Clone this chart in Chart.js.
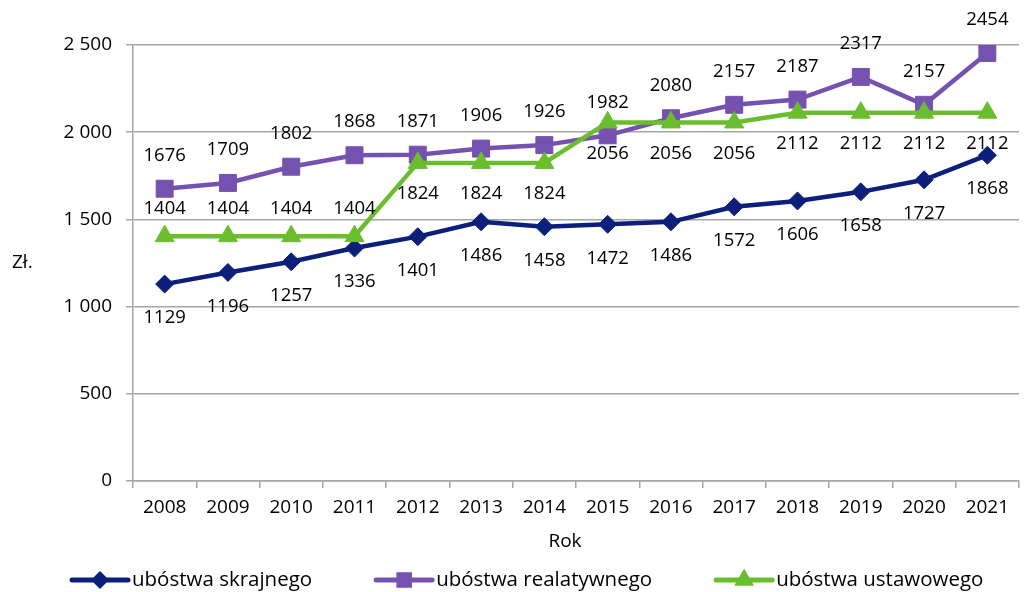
<!DOCTYPE html>
<html>
<head>
<meta charset="utf-8">
<script src="https://cdn.jsdelivr.net/npm/chart.js@4.4.1/dist/chart.umd.min.js"></script>
<style>
  html, body { margin: 0; padding: 0; background: #fff; }
  #wrap { width: 1032px; height: 592px; }
</style>
</head>
<body>
<div id="wrap"><canvas id="chart"></canvas></div>
<script>
// dane z wykresu (zł)
const years = ['2008', '2009', '2010', '2011', '2012', '2013', '2014', '2015', '2016', '2017', '2018', '2019', '2020', '2021'];
const skrajne = [1129, 1196, 1257, 1336, 1401, 1486, 1458, 1472, 1486, 1572, 1606, 1658, 1727, 1868];
const relatywne = [1676, 1709, 1802, 1868, 1871, 1906, 1926, 1982, 2080, 2157, 2187, 2317, 2157, 2454];
const ustawowe = [1404, 1404, 1404, 1404, 1824, 1824, 1824, 2056, 2056, 2056, 2112, 2112, 2112, 2112];
const seriesNames = ['ubóstwa skrajnego', 'ubóstwa realatywnego', 'ubóstwa ustawowego'];
const yMax = 2500;
const yStep = 500;

const FONT = '"Open Sans", sans-serif';
const colors = ['#0c1f7a', '#7652b0', '#6abe2e'];
const styles = ['rectRot', 'rect', 'triangle'];

// where each value label sits relative to its point
const labelShift = [
  i => 34,
  i => -33,
  i => (i < 4 ? -27 : 31)
];

function fmt(v) {
  return String(v).replace(/\B(?=(\d{3})+(?!\d))/g, ' ');
}

const valueLabels = {
  id: 'valueLabels',
  afterDatasetsDraw(chart) {
    const ctx = chart.ctx;
    ctx.save();
    ctx.font = '18.5px ' + FONT;
    ctx.fillStyle = '#000';
    ctx.textAlign = 'center';
    ctx.textBaseline = 'middle';
    chart.data.datasets.forEach((ds, di) => {
      const meta = chart.getDatasetMeta(di);
      meta.data.forEach((pt, i) => {
        ctx.fillText(String(ds.data[i]), pt.x, pt.y + labelShift[di](i));
      });
    });
    ctx.restore();
  }
};

const extras = {
  id: 'extras',
  afterDraw(chart) {
    const ctx = chart.ctx;
    const area = chart.chartArea;
    ctx.save();
    ctx.font = '19px ' + FONT;
    ctx.fillStyle = '#000';
    ctx.textBaseline = 'middle';
    // axis titles
    ctx.textAlign = 'left';
    ctx.fillText('Zł.', 12, (area.top + area.bottom) / 2);
    ctx.textAlign = 'center';
    ctx.fillText('Rok', 565, 542);
    // legend
    ctx.font = '20.5px ' + FONT;
    let x = 72;
    const y = 580;
    const markerR = [5.5, 7.5, 6.5];
    ctx.textAlign = 'left';
    seriesNames.forEach((name, i) => {
      ctx.strokeStyle = colors[i];
      ctx.fillStyle = colors[i];
      ctx.lineWidth = 5;
      ctx.lineCap = 'round';
      ctx.beginPath();
      ctx.moveTo(x, y);
      ctx.lineTo(x + 56, y);
      ctx.stroke();
      Chart.helpers.drawPoint(ctx, { pointStyle: styles[i], radius: markerR[i], borderWidth: 1 }, x + 28, y);
      ctx.fillStyle = '#000';
      ctx.fillText(name, x + 60, y);
      x += 60 + ctx.measureText(name).width + 64;
    });
    ctx.restore();
  }
};

const pointRadius = [9, 12, 11];

new Chart(document.getElementById('chart').getContext('2d'), {
  type: 'line',
  data: {
    labels: years,
    datasets: [skrajne, relatywne, ustawowe].map((values, i) => ({
      label: seriesNames[i],
      data: values,
      borderColor: colors[i],
      backgroundColor: colors[i],
      borderWidth: 4.5,
      tension: 0,
      pointStyle: styles[i],
      pointRadius: pointRadius[i],
      pointHoverRadius: pointRadius[i],
      pointBackgroundColor: colors[i],
      pointBorderColor: colors[i],
      pointBorderWidth: 1,
      order: 3 - i
    }))
  },
  options: {
    responsive: true,
    maintainAspectRatio: false,
    animation: false,
    layout: { padding: { top: 45, bottom: 36, left: 0, right: 0 } },
    plugins: {
      legend: { display: false },
      tooltip: { enabled: false }
    },
    scales: {
      x: {
        offset: true,
        grid: { offset: true, drawOnChartArea: false, color: '#a6a6a6', lineWidth: 1.5, tickLength: 7 },
        border: { color: '#a6a6a6', width: 1.5 },
        ticks: { color: '#000', font: { family: FONT, size: 19 }, padding: 8, maxRotation: 0 },
        afterFit: s => { s.height = 75; }
      },
      y: {
        min: 0,
        max: yMax,
        grid: { color: '#a6a6a6', lineWidth: 1.5, tickLength: 7 },
        border: { color: '#a6a6a6', width: 1.5 },
        ticks: { stepSize: yStep, color: '#000', font: { family: FONT, size: 19 }, padding: 14, callback: v => fmt(v) },
        afterFit: s => { s.width = 133; }
      }
    }
  },
  plugins: [valueLabels, extras]
});
</script>
</body>
</html>
